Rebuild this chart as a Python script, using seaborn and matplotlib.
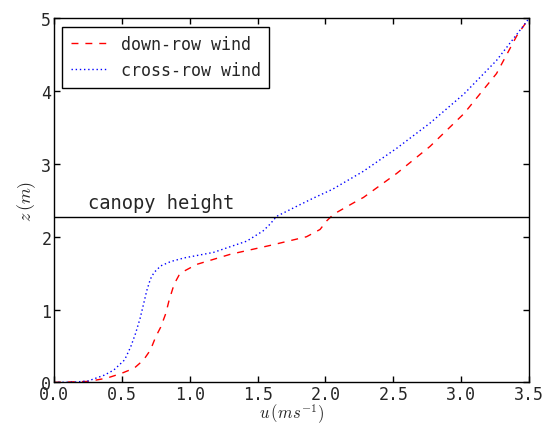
import numpy as np
import pandas as pd
import matplotlib
matplotlib.use("Agg")
import matplotlib.pyplot as plt
import seaborn as sns

# data
down_u = [0.0, 0.25, 0.32, 0.39, 0.49, 0.59, 0.66, 0.71, 0.75, 0.786, 0.823, 0.848, 0.885, 0.92, 0.96,
          1.05, 1.30, 1.59, 1.86, 1.96, 2.01, 2.06, 2.23, 2.28, 2.525, 2.77, 3.02, 3.26, 3.41, 3.50]
down_z = [0.0, 0.014, 0.036, 0.06, 0.12, 0.195, 0.31, 0.445, 0.63, 0.76, 0.945, 1.13, 1.35, 1.47, 1.53,
          1.62, 1.76, 1.88, 2.0, 2.10, 2.22, 2.31, 2.49, 2.54, 2.87, 3.24, 3.69, 4.24, 4.76, 5.00]
cross_u = [0.0, 0.15, 0.25, 0.37, 0.44, 0.52, 0.565, 0.60, 0.634, 0.66, 0.683, 0.71, 0.737, 0.786, 0.86,
           0.96, 1.174, 1.42, 1.54, 1.59, 1.64, 1.79, 1.91, 2.05, 2.28, 2.525, 2.77, 3.02, 3.26, 3.46, 3.50]
cross_z = [0.0, 0.005, 0.02, 0.10, 0.17, 0.31, 0.49, 0.67, 0.88, 1.08, 1.26, 1.42, 1.51, 1.60, 1.66,
           1.71, 1.785, 1.94, 2.08, 2.17, 2.28, 2.42, 2.53, 2.65, 2.90, 3.215, 3.56, 3.96, 4.42, 4.90, 5.00]
canopy_height = 2.275
series_names = ["down-row wind", "cross-row wind"]
x_ticks = [0.0, 0.5, 1.0, 1.5, 2.0, 2.5, 3.0, 3.5]
y_ticks = [0, 1, 2, 3, 4, 5]

sns.set_style("white", {
    "xtick.direction": "in", "ytick.direction": "in",
    "xtick.top": True, "ytick.right": True,
    "xtick.bottom": True, "ytick.left": True,
    "axes.edgecolor": "black",
})
plt.rcParams["font.family"] = ["DejaVu Sans Mono", "DejaVu Sans"]
plt.rcParams["mathtext.fontset"] = "cm"

df = pd.concat([
    pd.DataFrame({"u": down_u, "z": down_z, "series": series_names[0]}),
    pd.DataFrame({"u": cross_u, "z": cross_z, "series": series_names[1]}),
])

fig, ax = plt.subplots(figsize=(5.46, 4.27), dpi=100)
fig.subplots_adjust(left=0.099, right=0.969, top=0.955, bottom=0.102)

sub = df[df.series == series_names[0]]
sns.lineplot(x=sub.u, y=sub.z, ax=ax, color="red", linestyle=(0, (5, 5)), lw=1.0,
             label=series_names[0], sort=False, estimator=None)
sub = df[df.series == series_names[1]]
sns.lineplot(x=sub.u, y=sub.z, ax=ax, color="blue", linestyle=(0, (1, 2)), lw=1.0,
             label=series_names[1], sort=False, estimator=None)

ax.axhline(canopy_height, color="black", lw=1.0)
ax.text(0.25, canopy_height + 0.07, "canopy height", fontsize=13.5, ha="left", va="bottom")

ax.set_xlim(0, 3.5)
ax.set_ylim(0, 5)
ax.set_xticks(x_ticks)
ax.set_yticks(y_ticks)
ax.tick_params(labelsize=12, width=1, length=4, color="black", pad=2)
ax.set_xlabel(r"$u\,(ms^{-1})$", fontsize=12, labelpad=-1)
ax.set_ylabel(r"$z\,(m)$", fontsize=13, labelpad=2)
for s in ax.spines.values():
    s.set_linewidth(1.0)

leg = ax.legend(loc="upper left", fontsize=12, frameon=True, fancybox=False,
                edgecolor="black", framealpha=1, handlelength=2.2, borderpad=0.5)
leg.get_frame().set_linewidth(1.0)

fig.savefig("out.png", dpi=100)
